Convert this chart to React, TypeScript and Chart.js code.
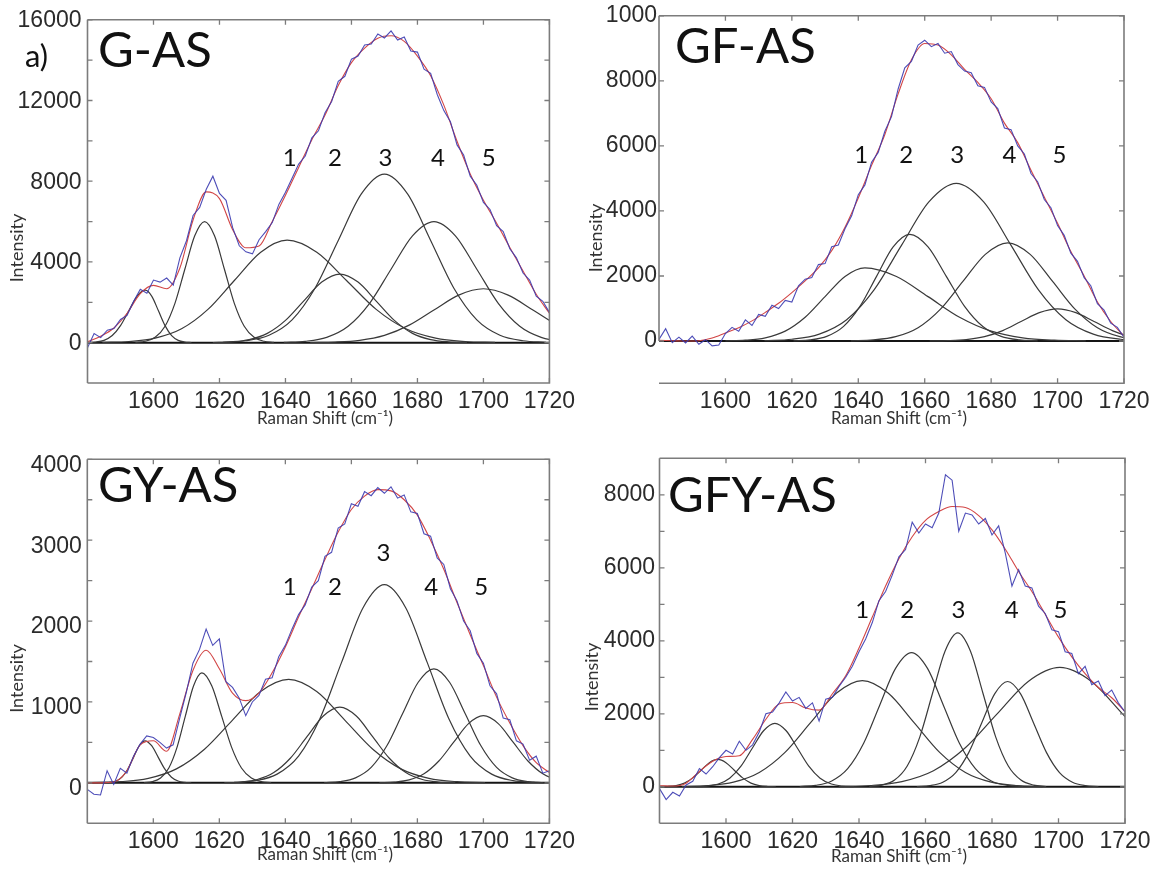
import React, { useEffect, useRef } from 'react';
import { Chart, registerables } from 'chart.js';

Chart.register(...registerables);

type Pt = [number, number];

// ---------- shared axis data ----------
const xMin = 1580;
const xMax = 1720;
const xTicks = [1600, 1620, 1640, 1660, 1680, 1700, 1720];
const xTickLabels = ['1600', '1620', '1640', '1660', '1680', '1700', '1720'];

const rawX = [
  1580, 1582, 1584, 1586, 1588, 1590, 1592, 1594, 1596, 1598, 1600, 1602, 1604, 1606, 1608, 1610, 1612, 1614,
  1616, 1618, 1620, 1622, 1624, 1626, 1628, 1630, 1632, 1634, 1636, 1638, 1640, 1642, 1644, 1646, 1648, 1650,
  1652, 1654, 1656, 1658, 1660, 1662, 1664, 1666, 1668, 1670, 1672, 1674, 1676, 1678, 1680, 1682, 1684, 1686,
  1688, 1690, 1692, 1694, 1696, 1698, 1700, 1702, 1704, 1706, 1708, 1710, 1712, 1714, 1716, 1718, 1720,
];
const fitX = [
  1580, 1584, 1588, 1592, 1596, 1600, 1604, 1608, 1612, 1616, 1620, 1624, 1628, 1632, 1636, 1640, 1644, 1648,
  1652, 1656, 1660, 1664, 1668, 1672, 1676, 1680, 1684, 1688, 1692, 1696, 1700, 1704, 1708, 1712, 1716, 1720,
];

// ---------- G-AS ----------
const gasYTicks = [0, 2000, 4000, 6000, 8000, 10000, 12000, 14000, 16000];
const gasYLabels = ['0', '', '4000', '', '8000', '', '12000', '', '16000'];
const gasRaw = [
  -250, 450, 250, 620, 700, 1150, 1350, 2050, 2650, 2450, 3100, 3000, 3200, 2850, 4200, 5050, 6300, 6700,
  7600, 8250, 7400, 7050, 5700, 4800, 4500, 4400, 5100, 5500, 5950, 6850, 7450, 8150, 8850, 9250, 10150, 10500,
  11400, 11950, 12950, 13200, 14050, 14200, 14750, 14800, 15300, 15100, 15450, 15000, 15150, 14450, 14400, 13550, 13350, 12300,
  11500, 10950, 9800, 9300, 8250, 7800, 6950, 6600, 5800, 5500, 4650, 4200, 3450, 3100, 2300, 2050, 1500,
];
const gasFit = [
  50, 320, 725, 1455, 2430, 2840, 2670, 3700, 6080, 7470, 7140, 5600, 4700, 4790, 6000, 7300, 8680, 10060,
  11280, 12740, 13875, 14600, 15090, 15210, 14930, 14200, 13230, 11770, 9980, 8360, 7060, 5920, 4720, 3550, 2400, 1455,
];
const gasBandA: Pt[] = [[1580, 6], [1582.5, 29], [1585, 114], [1587.5, 352], [1590, 844], [1592.5, 1577], [1595, 2295], [1597.5, 2600], [1599.5, 2295], [1601.5, 1577], [1603.5, 844], [1605.5, 352], [1607.5, 114], [1609.5, 29], [1611.5, 6]];
const gasBandB: Pt[] = [[1594.5, 13], [1597.5, 67], [1600.5, 263], [1603.5, 812], [1606.5, 1948], [1609.5, 3639], [1612.5, 5295], [1615.5, 6000], [1618.5, 5295], [1621.5, 3639], [1624.5, 1948], [1627.5, 812], [1630.5, 263], [1633.5, 67], [1636.5, 13]];
const gasBand1: Pt[] = [[1584.5, 11], [1592.5, 56], [1600.5, 223], [1608.5, 687], [1616.5, 1649], [1624.5, 3081], [1632.5, 4483], [1640.5, 5080], [1649.5, 4483], [1658.5, 3081], [1667.5, 1649], [1676.5, 687], [1685.5, 223], [1694.5, 56], [1703.5, 11]];
const gasBand2: Pt[] = [[1618, 7], [1623.5, 38], [1629, 149], [1634.5, 460], [1640, 1104], [1645.5, 2062], [1651, 3001], [1656.5, 3400], [1662, 3001], [1667.5, 2062], [1673, 1104], [1678.5, 460], [1684, 149], [1689.5, 38], [1695, 7]];
const gasBand3: Pt[] = [[1621, 18], [1628, 93], [1635, 367], [1642, 1130], [1649, 2711], [1656, 5064], [1663, 7369], [1670, 8350], [1677, 7369], [1684, 5064], [1691, 2711], [1698, 1130], [1705, 367], [1712, 93], [1719, 18]];
const gasBand4: Pt[] = [[1639.5, 13], [1646, 67], [1652.5, 263], [1659, 812], [1665.5, 1948], [1672, 3639], [1678.5, 5295], [1685, 6000], [1691.5, 5295], [1698, 3639], [1704.5, 1948], [1711, 812], [1717.5, 263], [1724, 67], [1730.5, 13]];
const gasBand5: Pt[] = [[1647.5, 6], [1655, 30], [1662.5, 117], [1670, 361], [1677.5, 867], [1685, 1619], [1692.5, 2356], [1700, 2670], [1707.5, 2356], [1715, 1619], [1722.5, 867], [1730, 361], [1737.5, 117], [1745, 30], [1752.5, 6]];
const gasBandLabelX = [1641.3, 1655, 1670.3, 1686.2, 1701.6];
const gasBandLabelY = [9150, 9150, 9150, 9150, 9150];

// ---------- GF-AS ----------
const gfYTicks = [0, 2000, 4000, 6000, 8000, 10000];
const gfYLabels = ['0', '2000', '4000', '6000', '8000', '1000'];
const gfRaw = [
  50, 380, -50, 120, -60, 150, -100, 40, -150, -120, 230, 420, 300, 650, 480, 820, 760, 1100,
  1000, 1250, 1200, 1700, 1900, 1950, 2350, 2380, 2900, 2950, 3450, 3850, 4500, 4800, 5500, 5800, 6450, 6900,
  7750, 8400, 8600, 9100, 9250, 9050, 9150, 8850, 8900, 8500, 8300, 8250, 7850, 7800, 7350, 7150, 6550, 6500,
  6000, 5750, 5150, 4900, 4350, 4100, 3550, 3250, 2700, 2450, 1950, 1700, 1150, 950, 550, 420, 120,
];
const gfFit = [
  20, 10, 0, 10, 90, 250, 410, 620, 880, 1160, 1490, 1850, 2250, 2780, 3500, 4400, 5400, 6350,
  7600, 8650, 9150, 9100, 8800, 8350, 7950, 7450, 6700, 6100, 5250, 4430, 3620, 2750, 2000, 1200, 600, 150,
];
const gfBand1: Pt[] = [[1600, 5], [1606, 25], [1612, 99], [1618, 304], [1624, 731], [1630, 1365], [1636, 1986], [1642, 2250], [1651.5, 1986], [1661, 1365], [1670.5, 731], [1680, 304], [1689.5, 99], [1699, 25], [1708.5, 5]];
const gfBand2: Pt[] = [[1620.5, 7], [1625.5, 36], [1630.5, 144], [1635.5, 444], [1640.5, 1065], [1645.5, 1989], [1650.5, 2895], [1655.5, 3280], [1661, 2895], [1666.5, 1989], [1672, 1065], [1677.5, 444], [1683, 144], [1688.5, 36], [1694, 7]];
const gfBand3: Pt[] = [[1611.75, 11], [1620, 54], [1628.25, 213], [1636.5, 656], [1644.75, 1575], [1653, 2942], [1661.25, 4280], [1669.5, 4850], [1677.75, 4280], [1686, 2942], [1694.25, 1575], [1702.5, 656], [1710.75, 213], [1719, 54], [1727.25, 11]];
const gfBand4: Pt[] = [[1637.75, 7], [1644.5, 34], [1651.25, 133], [1658, 409], [1664.75, 981], [1671.5, 1832], [1678.25, 2665], [1685, 3020], [1691.75, 2665], [1698.5, 1832], [1705.25, 981], [1712, 409], [1718.75, 133], [1725.5, 34], [1732.25, 7]];
const gfBand5: Pt[] = [[1661.5, 2], [1667, 11], [1672.5, 43], [1678, 134], [1683.5, 321], [1689, 600], [1694.5, 874], [1700, 990], [1705.5, 874], [1711, 600], [1716.5, 321], [1722, 134], [1727.5, 43], [1733, 11], [1738.5, 2]];
const gfBandLabelX = [1640.9, 1654.4, 1669.8, 1685.5, 1700.6];
const gfBandLabelY = [5713, 5713, 5713, 5713, 5713];

// ---------- GY-AS ----------
const gyYTicks = [0, 500, 1000, 1500, 2000, 2500, 3000, 3500, 4000];
const gyYLabels = ['0', '', '1000', '', '2000', '', '3000', '', '4000'];
const gyRaw = [
  -80, -140, -150, 150, -20, 180, 120, 330, 480, 580, 560, 500, 430, 470, 800, 1120, 1480, 1650,
  1900, 1700, 1780, 1250, 1180, 1050, 830, 1000, 1080, 1280, 1300, 1560, 1700, 1900, 2080, 2200, 2420, 2500,
  2800, 2850, 3150, 3200, 3450, 3420, 3600, 3550, 3650, 3580, 3660, 3520, 3560, 3350, 3330, 3080, 3050, 2780,
  2700, 2400, 2250, 2000, 1880, 1600, 1480, 1200, 1100, 800, 780, 520, 480, 280, 330, 120, 150,
];
const gyFit = [
  0, 0, 10, 150, 470, 520, 390, 850, 1390, 1640, 1410, 1110, 1016, 1110, 1360, 1680, 2050, 2400,
  2760, 3100, 3380, 3545, 3625, 3610, 3500, 3310, 3000, 2640, 2230, 1830, 1450, 1060, 740, 460, 250, 126,
];
const gyBandA: Pt[] = [[1585.25, 1], [1587, 6], [1588.75, 23], [1590.5, 70], [1592.25, 169], [1594, 315], [1595.75, 459], [1597.5, 520], [1599.5, 459], [1601.5, 315], [1603.5, 169], [1605.5, 70], [1607.5, 23], [1609.5, 6], [1611.5, 1]];
const gyBandB: Pt[] = [[1597.2, 3], [1599.7, 15], [1602.2, 60], [1604.7, 184], [1607.2, 442], [1609.7, 825], [1612.2, 1200], [1614.7, 1360], [1617.7, 1200], [1620.7, 825], [1623.7, 442], [1626.7, 184], [1629.7, 60], [1632.7, 15], [1635.7, 3]];
const gyBand1: Pt[] = [[1581.5, 3], [1590, 14], [1598.5, 56], [1607, 173], [1615.5, 416], [1624, 776], [1632.5, 1130], [1641, 1280], [1649.5, 1130], [1658, 776], [1666.5, 416], [1675, 173], [1683.5, 56], [1692, 14], [1700.5, 3]];
const gyBand2: Pt[] = [[1621.5, 2], [1626.5, 10], [1631.5, 41], [1636.5, 127], [1641.5, 304], [1646.5, 568], [1651.5, 826], [1656.5, 936], [1661.5, 826], [1666.5, 568], [1671.5, 304], [1676.5, 127], [1681.5, 41], [1686.5, 10], [1691.5, 2]];
const gyBand3: Pt[] = [[1624.5, 5], [1631, 27], [1637.5, 108], [1644, 331], [1650.5, 796], [1657, 1486], [1663.5, 2162], [1670, 2450], [1676.5, 2162], [1683, 1486], [1689.5, 796], [1696, 331], [1702.5, 108], [1709, 27], [1715.5, 5]];
const gyBand4: Pt[] = [[1651.75, 3], [1656.5, 16], [1661.25, 62], [1666, 191], [1670.75, 458], [1675.5, 855], [1680.25, 1244], [1685, 1410], [1689.75, 1244], [1694.5, 855], [1699.25, 458], [1704, 191], [1708.75, 62], [1713.5, 16], [1718.25, 3]];
const gyBand5: Pt[] = [[1668.5, 2], [1673, 9], [1677.5, 36], [1682, 112], [1686.5, 270], [1691, 503], [1695.5, 732], [1700, 830], [1704.5, 732], [1709, 503], [1713.5, 270], [1718, 112], [1722.5, 36], [1727, 9], [1731.5, 2]];
const gyBandLabelX = [1641.3, 1655, 1669.7, 1684.2, 1699.3];
const gyBandLabelY = [2415, 2415, 2843, 2415, 2415];

// ---------- GFY-AS ----------
const gfyYTicks = [0, 1000, 2000, 3000, 4000, 5000, 6000, 7000, 8000];
const gfyYLabels = ['0', '', '2000', '', '4000', '', '6000', '', '8000'];
const gfyRaw = [
  -50, -350, -150, -250, 50, 150, 500, 350, 550, 800, 1000, 900, 1250, 1000, 1150, 1500, 2000, 2050,
  2300, 2600, 2350, 2450, 2150, 2300, 1800, 2400, 2450, 2750, 3000, 3300, 3700, 4050, 4500, 5100, 5350, 5800,
  6300, 6500, 7250, 6950, 7200, 7100, 7500, 8550, 8400, 7000, 7500, 7450, 7200, 7350, 6900, 7150, 6400, 5500,
  5950, 5500, 5450, 4950, 4750, 4300, 4250, 3700, 3650, 3100, 3300, 2800, 2900, 2500, 2650, 2300, 2050,
];
const gfyFit = [
  30, 20, 100, 420, 700, 830, 850, 1300, 1850, 2270, 2310, 2160, 2100, 2550, 3040, 3800, 4650, 5500,
  6250, 6850, 7300, 7540, 7680, 7650, 7430, 7040, 6510, 5900, 5350, 4730, 4100, 3560, 3100, 2720, 2440, 2060,
];
const gfyBandA: Pt[] = [[1580, 2], [1582.5, 8], [1585, 33], [1587.5, 101], [1590, 244], [1592.5, 455], [1595, 662], [1597.5, 750], [1600, 662], [1602.5, 455], [1605, 244], [1607.5, 101], [1610, 33], [1612.5, 8], [1615, 2]];
const gfyBandB: Pt[] = [[1590.9, 4], [1594.3, 19], [1597.7, 76], [1601.1, 235], [1604.5, 565], [1607.9, 1055], [1611.3, 1536], [1614.7, 1740], [1618.1, 1536], [1621.5, 1055], [1624.9, 565], [1628.3, 235], [1631.7, 76], [1635.1, 19], [1638.5, 4]];
const gfyBand1: Pt[] = [[1586.75, 6], [1594.5, 32], [1602.25, 128], [1610, 394], [1617.75, 945], [1625.5, 1765], [1633.25, 2568], [1641, 2910], [1648.75, 2568], [1656.5, 1765], [1664.25, 945], [1672, 394], [1679.75, 128], [1687.5, 32], [1695.25, 6]];
const gfyBand2: Pt[] = [[1622.2, 8], [1627, 41], [1631.8, 161], [1636.6, 497], [1641.4, 1193], [1646.2, 2229], [1651, 3243], [1655.8, 3675], [1660.6, 3243], [1665.4, 2229], [1670.2, 1193], [1675, 497], [1679.8, 161], [1684.6, 41], [1689.4, 8]];
const gfyBand3: Pt[] = [[1643.1, 9], [1646.9, 47], [1650.7, 185], [1654.5, 570], [1658.3, 1369], [1662.1, 2556], [1665.9, 3720], [1669.7, 4215], [1673.5, 3720], [1677.3, 2556], [1681.1, 1369], [1684.9, 570], [1688.7, 185], [1692.5, 47], [1696.3, 9]];
const gfyBand4: Pt[] = [[1657.4, 6], [1661.3, 32], [1665.2, 127], [1669.1, 390], [1673, 937], [1676.9, 1750], [1680.8, 2546], [1684.7, 2885], [1688.6, 2546], [1692.5, 1750], [1696.4, 937], [1700.3, 390], [1704.2, 127], [1708.1, 32], [1712, 6]];
const gfyBand5: Pt[] = [[1633.9, 7], [1643.4, 36], [1652.9, 144], [1662.4, 442], [1671.9, 1062], [1681.4, 1983], [1690.9, 2886], [1700.4, 3270], [1709.9, 2886], [1719.4, 1983], [1728.9, 1062], [1738.4, 442], [1747.9, 144], [1757.4, 36], [1766.9, 7]];
const gfyBandLabelX = [1641.0, 1654.5, 1669.9, 1685.9, 1700.6];
const gfyBandLabelY = [4838, 4838, 4838, 4838, 4838];

const bandNames = ['1', '2', '3', '4', '5'];

// ---------- styling ----------
const UI_FONT = "Lato, 'Open Sans', sans-serif";
const TICK_FONT = "'Liberation Sans Narrow', 'Liberation Sans', Arial, sans-serif";
const BLUE = 'rgba(58, 58, 176, 0.9)';
const RED = 'rgb(210, 70, 70)';
const BAND = '#3a3a3a';
const FRAME = '#7c7c7c';

interface PanelDef {
  id: string;
  title: string;
  left: number;
  top: number;
  width: number;
  height: number;
  area: { l: number; r: number; t: number; b: number };
  yMin: number;
  yMax: number;
  yTicks: number[];
  yLabels: string[];
  yLabelOffset: number;
  yLabelPad: number;
  raw: number[];
  fit: number[];
  bands: Pt[][];
  bandLabelX: number[];
  bandLabelY: number[];
  titlePos: [number, number];
  intensityPos: [number, number];
  ramanPos: [number, number];
  extra?: { text: string; x: number; y: number };
  leftBorderToZero?: boolean;
}

const panels: PanelDef[] = [
  {
    id: 'gas', title: 'G-AS', left: 0, top: 0, width: 580, height: 440,
    area: { l: 87.5, r: 550, t: 12.7, b: 383 },
    yMin: -2000, yMax: 16000, yTicks: gasYTicks, yLabels: gasYLabels, yLabelOffset: 1, yLabelPad: 6,
    raw: gasRaw, fit: gasFit, bands: [gasBandA, gasBandB, gasBand1, gasBand2, gasBand3, gasBand4, gasBand5],
    bandLabelX: gasBandLabelX, bandLabelY: gasBandLabelY,
    titlePos: [98, 67], intensityPos: [17, 248], ramanPos: [325, 419],
    extra: { text: 'a)', x: 25, y: 66.5 },
  },
  {
    id: 'gf', title: 'GF-AS', left: 580, top: 0, width: 581, height: 440,
    area: { l: 79, r: 544, t: 12.7, b: 383.3 },
    yMin: -1300, yMax: 10000, yTicks: gfYTicks, yLabels: gfYLabels, yLabelOffset: 0, yLabelPad: 2,
    raw: gfRaw, fit: gfFit, bands: [gfBand1, gfBand2, gfBand3, gfBand4, gfBand5],
    bandLabelX: gfBandLabelX, bandLabelY: gfBandLabelY,
    titlePos: [95, 63], intensityPos: [15.7, 238], ramanPos: [319, 419],
    leftBorderToZero: true,
  },
  {
    id: 'gy', title: 'GY-AS', left: 0, top: 440, width: 580, height: 437,
    area: { l: 87.3, r: 550, t: 12.7, b: 383.3 },
    yMin: -500, yMax: 4000, yTicks: gyYTicks, yLabels: gyYLabels, yLabelOffset: 6, yLabelPad: 5.5,
    raw: gyRaw, fit: gyFit, bands: [gyBandA, gyBandB, gyBand1, gyBand2, gyBand3, gyBand4, gyBand5],
    bandLabelX: gyBandLabelX, bandLabelY: gyBandLabelY,
    titlePos: [98, 62], intensityPos: [17.5, 238.5], ramanPos: [325, 415],
  },
  {
    id: 'gfy', title: 'GFY-AS', left: 580, top: 440, width: 581, height: 437,
    area: { l: 79.5, r: 545, t: 12.7, b: 383.3 },
    yMin: -1000, yMax: 9000, yTicks: gfyYTicks, yLabels: gfyYLabels, yLabelOffset: 0, yLabelPad: 4.5,
    raw: gfyRaw, fit: gfyFit, bands: [gfyBandA, gfyBandB, gfyBand1, gfyBand2, gfyBand3, gfyBand4, gfyBand5],
    bandLabelX: gfyBandLabelX, bandLabelY: gfyBandLabelY,
    titlePos: [88, 72], intensityPos: [12.5, 237], ramanPos: [319, 417],
  },
];

const decorPlugin = {
  id: 'panelDecor',
  afterDraw(chart: any, _args: any, opts: any) {
    const p: PanelDef = opts.panel;
    if (!p) return;
    const { ctx, chartArea: a } = chart;
    const xs = chart.scales.x;
    const ys = chart.scales.y;
    ctx.save();
    // frame
    ctx.strokeStyle = FRAME;
    ctx.lineWidth = 1.6;
    ctx.beginPath();
    ctx.moveTo(a.left, a.top);
    ctx.lineTo(a.right, a.top);
    ctx.lineTo(a.right, a.bottom);
    ctx.lineTo(a.left, a.bottom);
    ctx.stroke();
    ctx.beginPath();
    ctx.moveTo(a.left, a.top);
    ctx.lineTo(a.left, p.leftBorderToZero ? ys.getPixelForValue(0) : a.bottom);
    ctx.stroke();
    // inward ticks
    ctx.lineWidth = 1.3;
    ctx.beginPath();
    for (const v of xTicks) {
      const px = xs.getPixelForValue(v);
      ctx.moveTo(px, a.bottom);
      ctx.lineTo(px, a.bottom - 5);
      ctx.moveTo(px, a.top);
      ctx.lineTo(px, a.top + 5);
    }
    for (const v of p.yTicks) {
      const py = ys.getPixelForValue(v);
      ctx.moveTo(a.left, py);
      ctx.lineTo(a.left + 5, py);
      ctx.moveTo(a.right, py);
      ctx.lineTo(a.right - 5, py);
    }
    ctx.stroke();

    // title
    ctx.fillStyle = '#111';
    ctx.textAlign = 'left';
    ctx.textBaseline = 'alphabetic';
    ctx.font = `49px ${UI_FONT}`;
    ctx.fillText(p.title, p.titlePos[0], p.titlePos[1]);
    if (p.extra) {
      ctx.font = `31px ${UI_FONT}`;
      ctx.fillText(p.extra.text, p.extra.x, p.extra.y);
    }
    // band numbers
    ctx.font = `24px ${UI_FONT}`;
    ctx.textAlign = 'center';
    ctx.textBaseline = 'middle';
    bandNames.forEach((n, i) => {
      ctx.fillText(n, xs.getPixelForValue(p.bandLabelX[i]), ys.getPixelForValue(p.bandLabelY[i]));
    });
    // axis titles
    ctx.fillStyle = '#333';
    ctx.font = `17px ${UI_FONT}`;
    ctx.fillText('Raman Shift (cm\u207B\u00B9)', p.ramanPos[0], p.ramanPos[1]);
    ctx.save();
    ctx.translate(p.intensityPos[0], p.intensityPos[1]);
    ctx.rotate(-Math.PI / 2);
    ctx.font = `18px ${UI_FONT}`;
    ctx.fillText('Intensity', 0, 0);
    ctx.restore();
    ctx.restore();
  },
};

function Panel({ p }: { p: PanelDef }) {
  const ref = useRef<HTMLCanvasElement | null>(null);
  useEffect(() => {
    const cv = ref.current;
    if (!cv) return;
    const yW = 70;
    const xH = 40;
    const datasets: any[] = [
      {
        label: 'measured',
        data: p.raw.map((v, i) => ({ x: rawX[i], y: v })),
        borderColor: BLUE,
        borderWidth: 1.1,
        tension: 0,
        order: 0,
      },
      {
        label: 'fit',
        data: p.fit.map((v, i) => ({ x: fitX[i], y: v })),
        borderColor: RED,
        borderWidth: 1.1,
        cubicInterpolationMode: 'monotone',
        order: 1,
      },
      ...p.bands.map((b, i) => ({
        label: 'band' + i,
        data: b.map(([x, y]) => ({ x, y })),
        borderColor: BAND,
        borderWidth: 1.2,
        cubicInterpolationMode: 'monotone',
        order: 2 + i,
      })),
      {
        label: 'baseline',
        data: [{ x: xMin, y: 0 }, { x: xMax, y: 0 }],
        borderColor: '#151515',
        borderWidth: 2,
        order: 20,
      },
    ];
    const chart = new Chart(cv, {
      type: 'line',
      data: { datasets },
      options: {
        animation: false,
        responsive: false,
        devicePixelRatio: 1,
        parsing: true,
        elements: { point: { radius: 0, hoverRadius: 0 }, line: { fill: false } },
        layout: {
          padding: {
            left: p.area.l - yW,
            right: p.width - p.area.r,
            top: p.area.t,
            bottom: p.height - p.area.b - xH,
          },
        },
        plugins: {
          legend: { display: false },
          tooltip: { enabled: false },
          panelDecor: { panel: p },
        } as any,
        events: [],
        scales: {
          x: {
            type: 'linear',
            min: xMin,
            max: xMax,
            grid: { display: false, drawTicks: false },
            border: { display: false },
            ticks: {
              color: '#2b2b2b',
              font: { family: TICK_FONT, size: 23 },
              padding: 5,
              maxRotation: 0,
              autoSkip: false,
              callback: (v: any) => {
                const i = xTicks.indexOf(Number(v));
                return i >= 0 ? xTickLabels[i] : '';
              },
            },
            afterBuildTicks: (s: any) => {
              s.ticks = xTicks.map((v) => ({ value: v }));
            },
            afterFit: (s: any) => {
              s.height = xH;
            },
          },
          y: {
            type: 'linear',
            min: p.yMin,
            max: p.yMax,
            grid: { display: false, drawTicks: false },
            border: { display: false },
            ticks: {
              color: '#2b2b2b',
              font: { family: TICK_FONT, size: 23 },
              padding: p.yLabelPad,
              labelOffset: p.yLabelOffset,
              autoSkip: false,
              callback: (v: any) => {
                const i = p.yTicks.indexOf(Number(v));
                return i >= 0 ? p.yLabels[i] : '';
              },
            },
            afterBuildTicks: (s: any) => {
              s.ticks = p.yTicks.map((v) => ({ value: v }));
            },
            afterFit: (s: any) => {
              s.width = yW;
            },
          },
        },
      } as any,
      plugins: [decorPlugin],
    });
    return () => chart.destroy();
  }, [p]);
  return (
    <canvas
      ref={ref}
      width={p.width}
      height={p.height}
      style={{ position: 'absolute', left: p.left, top: p.top, width: p.width, height: p.height }}
    />
  );
}

export default function App() {
  return (
    <div style={{ position: 'fixed', left: 0, top: 0, width: 1161, height: 877, background: '#fff', overflow: 'hidden' }}>
      {panels.map((p) => (
        <Panel key={p.id} p={p} />
      ))}
    </div>
  );
}
